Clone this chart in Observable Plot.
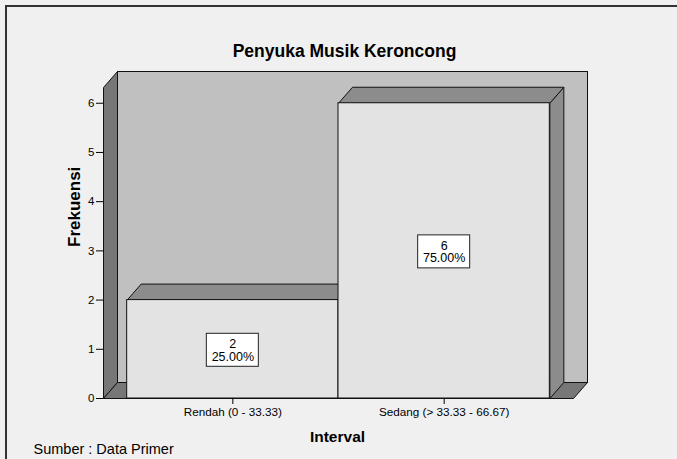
<!DOCTYPE html>
<html><head><meta charset="utf-8">
<script src="https://cdn.jsdelivr.net/npm/d3@7"></script>
<script src="https://cdn.jsdelivr.net/npm/@observablehq/plot@0.6"></script>
<style>
html,body{margin:0;padding:0;background:#f0f0f0;overflow:hidden;}
#wrap{position:relative;width:677px;height:459px;overflow:hidden;background:#f0f0f0;}
#wrap svg{position:absolute;left:0;top:0;}
#border{position:absolute;left:5px;top:5px;width:672px;height:454px;border-left:2px solid #333;border-top:2px solid #333;border-right:none;border-bottom:none;box-sizing:border-box;pointer-events:none;z-index:2;}
</style></head>
<body><div id="wrap"><div id="border"></div></div>
<script>
// ---- data ----
const categories = ["Rendah (0 - 33.33)", "Sedang (> 33.33 - 66.67)"];
const counts = [2, 6];
const percents = ["25.00%", "75.00%"];
const yTicks = [0, 1, 2, 3, 4, 5, 6];
const titleText = "Penyuka Musik Keroncong";
const xLabel = "Interval";
const yLabel = "Frekuensi";
const captionText = "Sumber : Data Primer";

const data = categories.map((c, i) => ({category: c, count: counts[i], percent: percents[i]}));

const W = 677, H = 459, ML = 103, MR = 104, MT = 87, MB = 61;
const DX = 14, DY = -16;
const PAD_OUT = 0.112;
const font = "'Liberation Sans', Arial, Helvetica, sans-serif";
const bw = (W - ML - MR) / (categories.length + 2 * PAD_OUT);
const boxW = 52, boxH = 33;

const plot = Plot.plot({
  width: W, height: H,
  marginLeft: ML, marginRight: MR, marginTop: MT, marginBottom: MB,
  style: {background: "transparent", fontFamily: font, color: "#000"},
  x: {domain: categories, paddingInner: 0, paddingOuter: PAD_OUT, round: false},
  y: {domain: [0, 6.32]},
  marks: [
    Plot.frame({fill: "#c0c0c0", stroke: "#111", dx: DX, dy: DY}),
    Plot.barY(data, {x: "category", y: "count", fill: "#e3e3e3", stroke: "#111"}),
    Plot.barY(data, {x: "category", y1: d => d.count / 2, y2: d => d.count / 2,
      fill: "#fff", stroke: "#222", dy: 1,
      insetLeft: (bw - boxW) / 2, insetRight: (bw - boxW) / 2,
      insetTop: -boxH / 2, insetBottom: -boxH / 2}),
    Plot.text(data, {x: "category", y: d => d.count / 2, text: d => `${d.count}\n${d.percent}`,
      fontSize: 12.5, lineHeight: 1.0, dy: 1, fill: "#000"}),
    Plot.axisY({ticks: yTicks, tickSize: 7, tickPadding: 2, fontSize: 11.5, label: null, tickFormat: d => String(d), stroke: "#000"}),
    Plot.axisX({tickSize: 6, tickPadding: 3, fontSize: 11.7, label: null, stroke: "#000"}),
    Plot.text([yLabel], {frameAnchor: "left", text: d => d, rotate: -90, dx: -29, dy: 4, fontSize: 17, fontWeight: "bold", fill: "#000"}),
    Plot.text([xLabel], {frameAnchor: "bottom", text: d => d, lineAnchor: "bottom", dx: -1, dy: 43, fontSize: 15.5, fontWeight: "bold", fill: "#000"}),
    Plot.text([titleText], {frameAnchor: "top", text: d => d, lineAnchor: "bottom", dx: 6, dy: -31, fontSize: 17.5, fontWeight: "bold", fill: "#000"}),
    Plot.text([captionText], {frameAnchor: "bottom-left", text: d => d, textAnchor: "start", lineAnchor: "bottom", dx: -70, dy: 55, fontSize: 14.5, fill: "#000"})
  ]
});

// ---- 3D decoration through Plot's scales ----
const sx = plot.scale("x"), sy = plot.scale("y");
const xs = d3.scaleBand(sx.domain, sx.range)
  .paddingInner(sx.paddingInner ?? 0).paddingOuter(sx.paddingOuter ?? PAD_OUT).align(sx.align ?? 0.5);
const ys = d3.scaleLinear(sy.domain, sy.range);
const [x0, x1] = sx.range;
const yb = ys(0), yt = Math.min(...sy.range);
const poly = pts => pts.map(p => p.join(",")).join(" ");
const g = d3.create("svg:g").attr("transform", "translate(0.5,0.5)").attr("stroke", "#111").attr("stroke-width", 1);
g.append("polygon").attr("fill", "#777").attr("points", poly([[x0, yt], [x0 + DX, yt + DY], [x0 + DX, yb + DY], [x0, yb]]));
g.append("polygon").attr("fill", "#777").attr("points", poly([[x0, yb], [x0 + DX, yb + DY], [x1 + DX, yb + DY], [x1, yb]]));
data.forEach(d => {
  const xl = xs(d.category), xr = xl + xs.bandwidth(), ytop = ys(d.count);
  g.append("polygon").attr("fill", "#8c8c8c").attr("points", poly([[xr, ytop], [xr + DX, ytop + DY], [xr + DX, yb + DY], [xr, yb]]));
  g.append("polygon").attr("fill", "#8c8c8c").attr("points", poly([[xl, ytop], [xl + DX, ytop + DY], [xr + DX, ytop + DY], [xr, ytop]]));
});
const firstBar = plot.querySelector('g[aria-label="bar"]');
plot.insertBefore(g.node(), firstBar);

document.getElementById("wrap").appendChild(plot);
</script>
</body></html>
